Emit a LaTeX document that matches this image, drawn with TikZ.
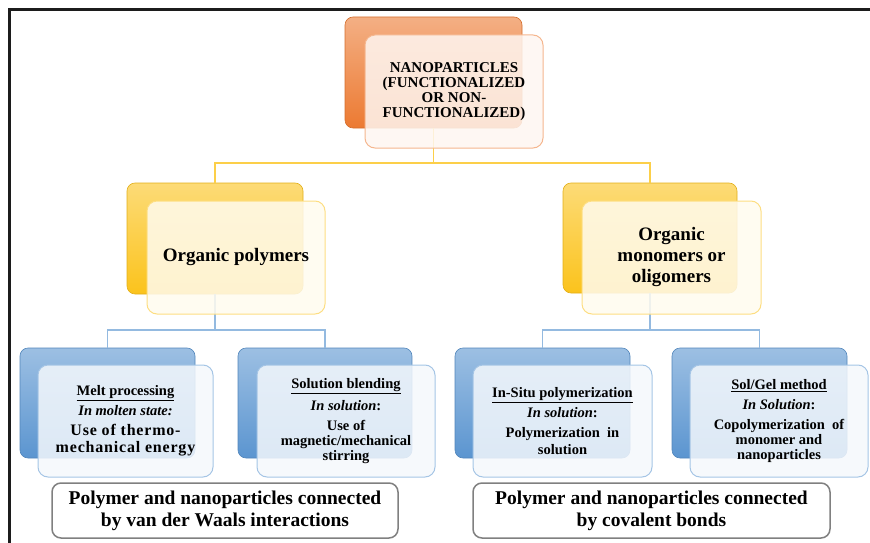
\documentclass[tikz,border=0pt]{standalone}
\usepackage{fontspec}
\setmainfont{Liberation Serif}
\usepackage{xcolor}
\usepackage{tikz}

\definecolor{nporange}{HTML}{EC7A32}
\definecolor{npgold}{HTML}{FBC31C}
\definecolor{npblue}{HTML}{5B95D0}
\definecolor{npframe}{HTML}{1C1C1C}

\newcommand{\widebody}[1]{{\fontsize{16}{17}\selectfont\addfontfeature{LetterSpace=5}#1}}

\begin{document}
\begin{tikzpicture}[x=1pt, y=-1pt,
  back/.style={rounded corners=8pt, draw=#1!90!black, line width=.6pt, top color=#1!60!white, bottom color=#1, inner sep=0pt},
  front/.style={rounded corners=10pt, draw=#1!55!white, line width=1pt, fill=#1!7!white, fill opacity=.85, text opacity=1, inner sep=0pt, align=center, font=\bfseries},
  ylink/.style={draw=npgold!80!white, line width=1.5pt},
  blink/.style={draw=npblue!65!white, line width=1.5pt},
  note/.style={rounded corners=9pt, draw=black!50, line width=1.5pt, fill=white, inner sep=0pt, minimum height=55pt, align=center, font=\fontsize{19.5}{22}\selectfont\bfseries}]
  \useasboundingbox (0,0) rectangle (870,543);
  \draw [npframe, line width=3pt] (870,10) -- (9,10) -- (9,543);

  % back plates
  \node[back=nporange, minimum width=177pt, minimum height=111pt] (topb) at (433.5,72.5) {};
  \node[back=npgold, minimum width=176pt, minimum height=111pt] (polyb) at (215,238.5) {};
  \node[back=npgold, minimum width=174pt, minimum height=110pt] (monob) at (650,238) {};
  \node[back=npblue, minimum width=175pt, minimum height=110pt] (meltb) at (107.5,403) {};
  \node[back=npblue, minimum width=174pt, minimum height=110pt] (solb) at (325,403) {};
  \node[back=npblue, minimum width=175pt, minimum height=110pt] (situb) at (542.5,403) {};
  \node[back=npblue, minimum width=175pt, minimum height=110pt] (gelb) at (759.5,403) {};

  % tree lines
  \coordinate (ysplit) at (433.5,163);
  \coordinate (lsplit) at (215,330);
  \coordinate (rsplit) at (650,330);
  \draw [ylink] (topb.south) -- (ysplit) -| (polyb.north);
  \draw [ylink] (ysplit) -| (monob.north);
  \draw [blink] (polyb.south) -- (lsplit) -| (meltb.north);
  \draw [blink] (lsplit) -| (solb.north);
  \draw [blink] (monob.south) -- (rsplit) -| (situb.north);
  \draw [blink] (rsplit) -| (gelb.north);

  % front cards
  \node[front=nporange, minimum width=178pt, minimum height=113pt, font=\fontsize{15}{15}\selectfont\bfseries] (top) at (454,91.5)
    {NANOPARTICLES\\(FUNCTIONALIZED\\OR NON-\\FUNCTIONALIZED)};
  \node[front=npgold, minimum width=178pt, minimum height=113pt, font=\fontsize{19}{21}\selectfont\bfseries] (poly) at (236,257.5)
    {Organic polymers};
  \node[front=npgold, minimum width=179pt, minimum height=113pt, font=\fontsize{19}{21}\selectfont\bfseries] (mono) at (671.5,257.5)
    {Organic\\monomers or\\oligomers};
  \node[front=npblue, minimum width=175pt, minimum height=112pt, font=\fontsize{14.5}{17}\selectfont\bfseries] (melt) at (125.5,421)
    {\underline{Melt processing}\\[3pt] \textit{In molten state:}\\[3pt] \widebody{Use of thermo-}\\ \widebody{mechanical energy}};
  \node[front=npblue, minimum width=178pt, minimum height=112pt, font=\fontsize{14.5}{15}\selectfont\bfseries] (sol) at (346,421)
    {\underline{Solution blending}\\[5pt] \textit{In solution}:\\[5pt] Use of\\magnetic/mechanical\\stirring};
  \node[front=npblue, minimum width=179pt, minimum height=112pt, font=\fontsize{14.5}{17}\selectfont\bfseries] (situ) at (562.5,421)
    {\underline{In-Situ polymerization}\\[3pt] \textit{In solution}:\\[3pt] Polymerization~~in\\solution};
  \node[front=npblue, minimum width=178pt, minimum height=112pt, font=\fontsize{14.5}{15}\selectfont\bfseries] (gel) at (779,421)
    {\underline{Sol/Gel method}\\[5pt] \textit{In Solution}:\\[5pt] Copolymerization~~of\\monomer and\\nanoparticles};

  % bonding notes
  \node[note, minimum width=346pt] (vdw) at (225,510.5)
    {Polymer and nanoparticles connected\\by van der Waals interactions};
  \node[note, minimum width=357pt] (cov) at (651.5,510.5)
    {Polymer and nanoparticles connected\\by covalent bonds};
\end{tikzpicture}
\end{document}
